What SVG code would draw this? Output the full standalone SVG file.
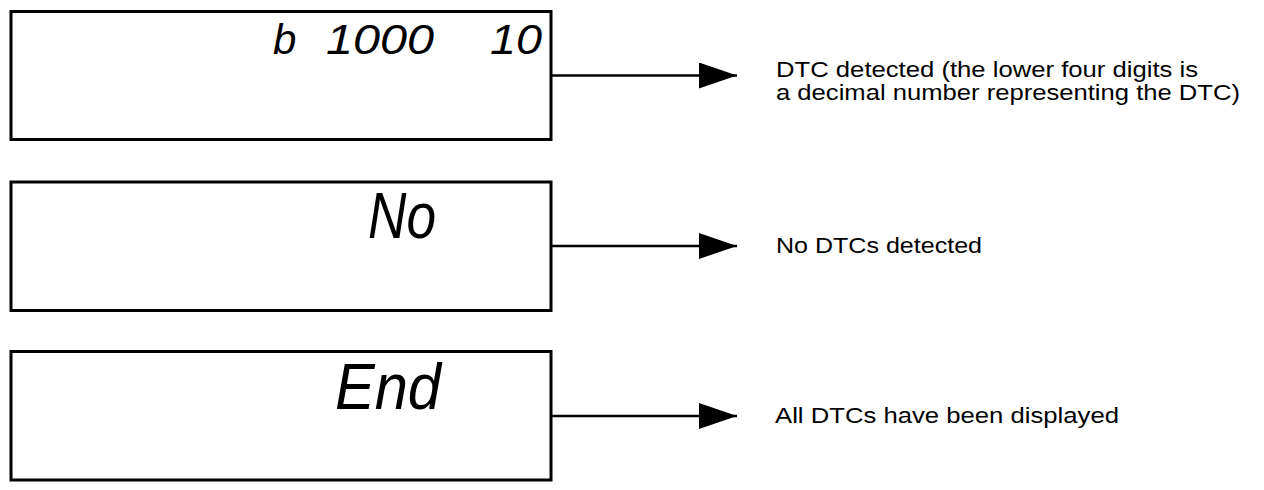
<svg xmlns="http://www.w3.org/2000/svg" width="1264" height="490" viewBox="0 0 1264 490">
<style>
.box{fill:#fff;stroke:#000;stroke-width:3}
.seg{font-family:"Liberation Sans",Arial,sans-serif;font-style:italic;fill:#000}
.lbl{font-family:"Liberation Sans",Arial,sans-serif;font-size:22px;fill:#000}
.conn{stroke:#000;stroke-width:2.3;fill:none;marker-end:url(#arr)}
</style>
<defs>
<marker id="arr" markerUnits="userSpaceOnUse" markerWidth="40" markerHeight="28" refX="38" refY="13" orient="auto">
<path d="M0,0 L38,13 L0,26 Z" fill="#000"/>
</marker>
</defs>
<rect width="1264" height="490" fill="#fff"/>
<g id="connectors">
<line class="conn" x1="552" y1="75.5" x2="737" y2="75.5"/>
<line class="conn" x1="552" y1="246" x2="737" y2="246"/>
<line class="conn" x1="552" y1="416" x2="737" y2="416"/>
</g>
<g id="node-dtc">
<rect class="box" x="11" y="11.5" width="540" height="128"/>
<text class="seg" x="273" y="54" font-size="42">b</text>
<text class="seg" x="326" y="54" font-size="42" textLength="108" lengthAdjust="spacingAndGlyphs">1000</text>
<text class="seg" x="490" y="54" font-size="42" textLength="52" lengthAdjust="spacingAndGlyphs">10</text>
</g>
<g id="node-no">
<rect class="box" x="11" y="182" width="540" height="128.5"/>
<text class="seg" x="368" y="238" font-size="64" textLength="68" lengthAdjust="spacingAndGlyphs">No</text>
</g>
<g id="node-end">
<rect class="box" x="11" y="351.5" width="540" height="128.5"/>
<text class="seg" x="335" y="409" font-size="65" textLength="106" lengthAdjust="spacingAndGlyphs">End</text>
</g>
<g id="label-dtc">
<text class="lbl" x="776" y="77" textLength="422" lengthAdjust="spacingAndGlyphs">DTC detected (the lower four digits is</text>
<text class="lbl" x="776" y="100" textLength="464" lengthAdjust="spacingAndGlyphs">a decimal number representing the DTC)</text>
</g>
<g id="label-no">
<text class="lbl" x="776" y="253" textLength="206" lengthAdjust="spacingAndGlyphs">No DTCs detected</text>
</g>
<g id="label-end">
<text class="lbl" x="775" y="423" textLength="344" lengthAdjust="spacingAndGlyphs">All DTCs have been displayed</text>
</g>
</svg>
